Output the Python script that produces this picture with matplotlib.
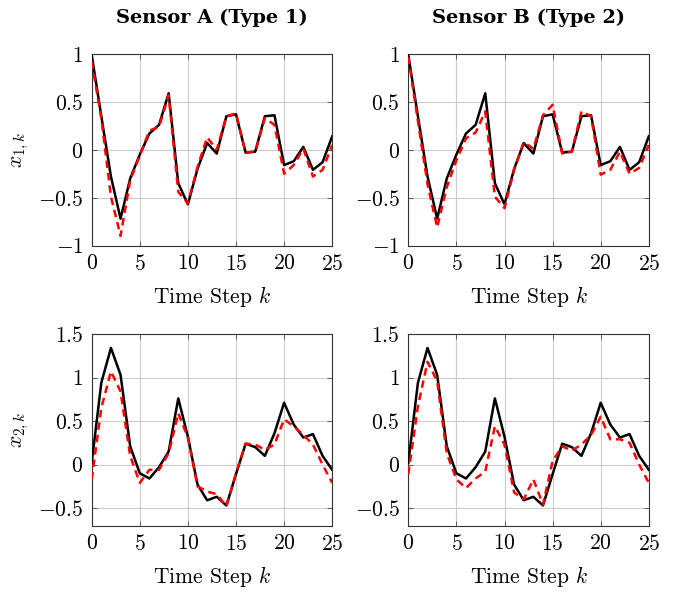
import numpy as np
import matplotlib
matplotlib.use("Agg")
import matplotlib.pyplot as plt
from matplotlib.ticker import FuncFormatter

k = np.arange(26)

# true states
x1_true = [0.99, 0.35, -0.28, -0.72, -0.30, -0.05, 0.17, 0.26, 0.59, -0.35,
           -0.57, -0.20, 0.07, -0.04, 0.35, 0.37, -0.03, -0.02, 0.35, 0.36,
           -0.16, -0.12, 0.03, -0.21, -0.13, 0.14]
x2_true = [0.02, 0.94, 1.34, 1.03, 0.21, -0.10, -0.16, -0.03, 0.15, 0.76,
           0.32, -0.23, -0.41, -0.37, -0.47, -0.11, 0.24, 0.20, 0.10, 0.36,
           0.71, 0.46, 0.31, 0.35, 0.10, -0.06]

# estimates, sensor A (type 1)
x1_est_A = [0.92, 0.33, -0.49, -0.90, -0.32, -0.06, 0.20, 0.24, 0.57, -0.44,
            -0.56, -0.18, 0.13, 0.00, 0.35, 0.38, -0.03, -0.02, 0.33, 0.26,
            -0.25, -0.16, 0.01, -0.28, -0.21, 0.05]
x2_est_A = [-0.17, 0.65, 1.07, 0.84, 0.10, -0.21, -0.06, -0.06, 0.13, 0.59,
            0.31, -0.25, -0.31, -0.34, -0.48, -0.10, 0.24, 0.23, 0.17, 0.23,
            0.52, 0.44, 0.34, 0.23, 0.00, -0.21]

# estimates, sensor B (type 2)
x1_est_B = [0.97, 0.30, -0.36, -0.81, -0.39, -0.11, 0.12, 0.18, 0.40, -0.49,
            -0.61, -0.21, 0.08, 0.01, 0.36, 0.47, -0.04, -0.02, 0.40, 0.35,
            -0.26, -0.21, -0.02, -0.25, -0.19, 0.05]
x2_est_B = [-0.11, 0.67, 1.18, 0.96, 0.13, -0.17, -0.27, -0.16, -0.08, 0.44,
            0.23, -0.32, -0.40, -0.17, -0.46, 0.04, 0.21, 0.16, 0.23, 0.34,
            0.55, 0.29, 0.29, 0.25, 0.00, -0.21]

titles = ["Sensor A (Type 1)", "Sensor B (Type 2)"]
ylabels = [r"$x_{1,k}$", r"$x_{2,k}$"]
x_ticks = [0, 5, 10, 15, 20, 25]
y1_ticks = [-1, -0.5, 0, 0.5, 1]
y2_ticks = [-0.5, 0, 0.5, 1, 1.5]

plt.rcParams["font.family"] = "serif"
plt.rcParams["font.serif"] = ["cmr10"]
plt.rcParams["mathtext.fontset"] = "cm"
plt.rcParams["axes.formatter.use_mathtext"] = True

W, H = 678, 593
fig = plt.figure(figsize=(W / 100, H / 100), dpi=100)

lefts = [91.7, 408.3]
width = 240.5
tops = [54, 334]
height = 191.5

true_data = [x1_true, x2_true]
est_data = [[x1_est_A, x1_est_B], [x2_est_A, x2_est_B]]
ylims = [(-1, 1), (-0.7, 1.5)]
yticks = [y1_ticks, y2_ticks]

fmt = FuncFormatter(lambda v, p: "$%g$" % v)
FS = 15.5

for r in range(2):
    for c in range(2):
        ax = fig.add_axes([lefts[c] / W, 1 - (tops[r] + height) / H, width / W, height / H])
        ax.plot(k, true_data[r], color="black", lw=1.8, zorder=3)
        ax.plot(k, est_data[r][c], color="red", lw=1.8, ls=(0, (3.0, 2.0)), zorder=4)
        ax.set_xlim(0, 25)
        ax.set_ylim(*ylims[r])
        ax.set_xticks(x_ticks)
        ax.set_yticks(yticks[r])
        ax.xaxis.set_major_formatter(fmt)
        ax.yaxis.set_major_formatter(fmt)
        ax.grid(True, color="#cccccc", lw=0.8)
        ax.set_axisbelow(True)
        ax.tick_params(direction="in", top=True, right=True, length=3.5, width=0.6,
                       color="#444444", labelsize=FS, pad=6)
        for s in ax.spines.values():
            s.set_color("#333333")
            s.set_linewidth(0.8)
        ax.set_xlabel(r"Time Step $k$", fontsize=FS, labelpad=7.5)
        if c == 0:
            ax.set_ylabel(ylabels[r], fontsize=FS, labelpad=5)
        if r == 0:
            ax.set_title(titles[c], fontsize=14, family="DejaVu Serif",
                         fontweight="bold", pad=22)

fig.savefig("out.png", dpi=100)
